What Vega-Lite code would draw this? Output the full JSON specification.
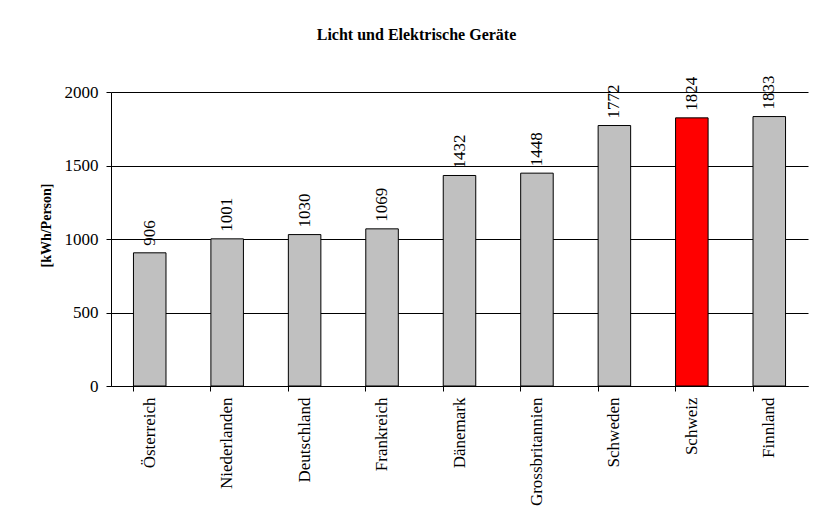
{
  "$schema": "https://vega.github.io/schema/vega-lite/v6.json",
  "autosize": "none",
  "width": 697,
  "height": 294,
  "padding": {"left": 111, "top": 92, "right": 8, "bottom": 144},
  "background": "white",
  "title": {
    "text": "Licht und Elektrische Geräte",
    "font": "Liberation Serif",
    "fontSize": 16,
    "fontWeight": "bold",
    "color": "black",
    "anchor": "middle",
    "dx": -43,
    "offset": 33
  },
  "data": {
    "values": [
      {"Land": "Österreich", "Wert": 906, "CH": "nein"},
      {"Land": "Niederlanden", "Wert": 1001, "CH": "nein"},
      {"Land": "Deutschland", "Wert": 1030, "CH": "nein"},
      {"Land": "Frankreich", "Wert": 1069, "CH": "nein"},
      {"Land": "Dänemark", "Wert": 1432, "CH": "nein"},
      {"Land": "Grossbritannien", "Wert": 1448, "CH": "nein"},
      {"Land": "Schweden", "Wert": 1772, "CH": "nein"},
      {"Land": "Schweiz", "Wert": 1824, "CH": "ja"},
      {"Land": "Finnland", "Wert": 1833, "CH": "nein"}
    ]
  },
  "encoding": {
    "x": {
      "field": "Land",
      "type": "nominal",
      "sort": null,
      "scale": {"paddingInner": 0.58, "paddingOuter": 0.29},
      "axis": {
        "title": null,
        "labelAngle": -90,
        "labelFont": "Liberation Serif",
        "labelFontSize": 17,
        "labelColor": "black",
        "labelPadding": 6,
        "tickSize": 5,
        "tickColor": "black",
        "bandPosition": 0,
        "domainColor": "black",
        "grid": false
      }
    },
    "y": {
      "field": "Wert",
      "type": "quantitative",
      "scale": {"domain": [0, 2000], "nice": false},
      "axis": {
        "title": "[kWh/Person]",
        "titleFont": "Liberation Serif",
        "titleFontSize": 14,
        "titleFontWeight": "bold",
        "titleColor": "black",
        "titlePadding": 11,
        "titleY": 133,
        "titleAlign": "center",
        "values": [0, 500, 1000, 1500, 2000],
        "format": "d",
        "labelFont": "Liberation Serif",
        "labelFontSize": 17,
        "labelColor": "black",
        "labelPadding": 8,
        "tickSize": 5,
        "tickColor": "black",
        "domainColor": "black",
        "gridColor": "black",
        "gridOpacity": 1
      }
    }
  },
  "layer": [
    {
      "mark": {"type": "bar", "stroke": "black", "strokeWidth": 1},
      "encoding": {
        "color": {
          "field": "CH",
          "type": "nominal",
          "scale": {"domain": ["nein", "ja"], "range": ["#C0C0C0", "#FF0000"]},
          "legend": null
        }
      }
    },
    {
      "mark": {
        "type": "text",
        "angle": -90,
        "align": "left",
        "baseline": "middle",
        "dx": 7,
        "font": "Liberation Serif",
        "fontSize": 17,
        "color": "black"
      },
      "encoding": {"text": {"field": "Wert", "type": "quantitative"}}
    }
  ],
  "config": {"view": {"stroke": null}}
}
